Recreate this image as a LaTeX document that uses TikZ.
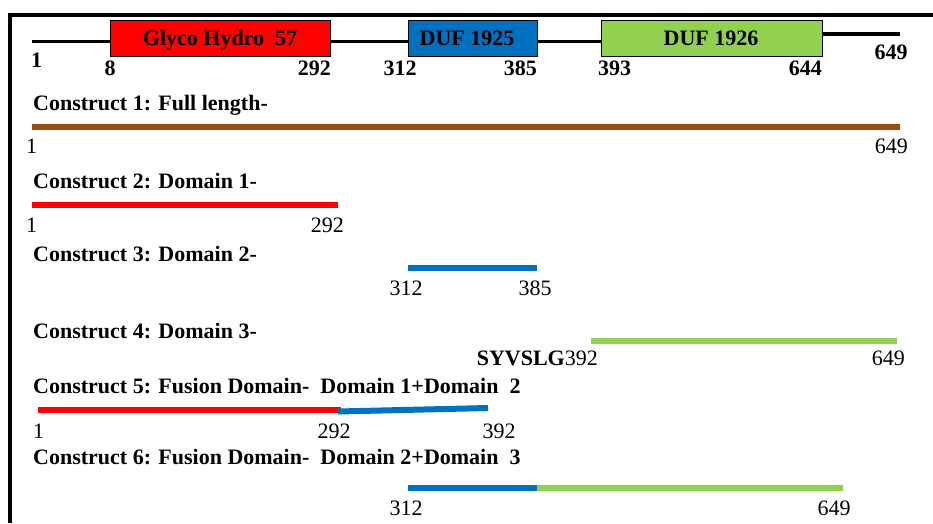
\documentclass[tikz,border=0pt]{standalone}
\usepackage{fontspec}
\setmainfont{Liberation Serif}
\definecolor{gred}{RGB}{255,0,0}
\definecolor{gblue}{RGB}{0,112,192}
\definecolor{ggreen}{RGB}{146,208,80}
\definecolor{gbrown}{RGB}{158,75,14}
\begin{document}
\begin{tikzpicture}[x=1pt,y=-1pt,
  lbl/.style={inner sep=0pt, font=\fontsize{22}{26}\selectfont},
  blbl/.style={inner sep=0pt, font=\fontsize{22}{26}\selectfont\bfseries},
  dom/.style={draw=black, line width=0.8pt, inner sep=0pt, minimum height=36pt},
  bar/.style={line width=6pt},
  axisline/.style={line width=3.2pt}]
\useasboundingbox (0,0) rectangle (933,523);
% frame
\draw[line width=3.6pt] (933,15) -- (10,15) -- (10,523);
% axis
\coordinate (a0) at (32,41.5);
\coordinate (a1) at (601,41.5);
\coordinate (a2) at (822,34);
\coordinate (a3) at (900,34);
\draw[axisline] (a0) -- (a1);
\draw[axisline] (a2) -- (a3);
% domains
\node[dom, fill=gred, minimum width=220pt] (d1) at (220,38) {};
\node[dom, fill=gblue, minimum width=129pt] (d2) at (472.5,38) {};
\node[dom, fill=ggreen, minimum width=221pt] (d3) at (711.5,38) {};
\node[blbl, anchor=base] (t1) at (220,45) {Glyco Hydro\ \ 57};
\node[blbl, anchor=base] (t2) at (467,45) {DUF 1925};
\node[blbl, anchor=base] (t3) at (711,45) {DUF 1926};
% axis numbers
\node[blbl, anchor=base west] (n1) at (31,67) {1};
\node[blbl, anchor=base] (n8) at (110,75) {8};
\node[blbl, anchor=base east] (n292) at (331,75) {292};
\node[blbl, anchor=base] (n312) at (400,75) {312};
\node[blbl, anchor=base east] (n385) at (537,75) {385};
\node[blbl, anchor=base west] (n393) at (598,75) {393};
\node[blbl, anchor=base east] (n644) at (822,75) {644};
\node[blbl, anchor=base] (n649) at (891,59) {649};
% construct 1
\node[blbl, anchor=base west] (c1) at (33,110) {Construct 1: Full length-};
\coordinate (b1s) at (32,127); \coordinate (b1e) at (900,127);
\draw[bar, gbrown] (b1s) -- (b1e);
\node[lbl, anchor=base west] (c1a) at (26,153) {1};
\node[lbl, anchor=base east] (c1b) at (908,153) {649};
% construct 2
\node[blbl, anchor=base west] (c2) at (33,188) {Construct 2: Domain 1-};
\coordinate (b2s) at (32,205); \coordinate (b2e) at (338,205);
\draw[bar, gred] (b2s) -- (b2e);
\node[lbl, anchor=base west] (c2a) at (26,232) {1};
\node[lbl, anchor=base east] (c2b) at (344,232) {292};
% construct 3
\node[blbl, anchor=base west] (c3) at (33,261) {Construct 3: Domain 2-};
\coordinate (b3s) at (408,268); \coordinate (b3e) at (537,268);
\draw[bar, gblue] (b3s) -- (b3e);
\node[lbl, anchor=base] (c3a) at (406,295) {312};
\node[lbl, anchor=base] (c3b) at (535,295) {385};
% construct 4
\node[blbl, anchor=base west] (c4) at (33,338) {Construct 4: Domain 3-};
\coordinate (b4s) at (591,341); \coordinate (b4e) at (897,341);
\draw[bar, ggreen] (b4s) -- (b4e);
\node[lbl, anchor=base east] (c4a) at (598,365) {\textbf{SYVSLG}392};
\node[lbl, anchor=base east] (c4b) at (905,365) {649};
% construct 5
\node[blbl, anchor=base west] (c5) at (33,393) {Construct 5: Fusion Domain-\ \ Domain 1+Domain\ \ 2};
\coordinate (b5s) at (38,410); \coordinate (b5m) at (341,410);
\coordinate (b5n) at (338,411.5); \coordinate (b5e) at (488,408);
\draw[bar, gred] (b5s) -- (b5m);
\draw[bar, gblue] (b5n) -- (b5e);
\node[lbl, anchor=base west] (c5a) at (33,438) {1};
\node[lbl, anchor=base] (c5b) at (334,438) {292};
\node[lbl, anchor=base] (c5c) at (499,438) {392};
% construct 6
\node[blbl, anchor=base west] (c6) at (33,464) {Construct 6: Fusion Domain-\ \ Domain 2+Domain\ \ 3};
\coordinate (b6s) at (408,488); \coordinate (b6m) at (537,488); \coordinate (b6e) at (843,488);
\draw[bar, ggreen] (b6m) -- (b6e);
\draw[bar, gblue] (b6s) -- (b6m);
\node[lbl, anchor=base] (c6a) at (406,515) {312};
\node[lbl, anchor=base] (c6b) at (834,515) {649};
\end{tikzpicture}
\end{document}
